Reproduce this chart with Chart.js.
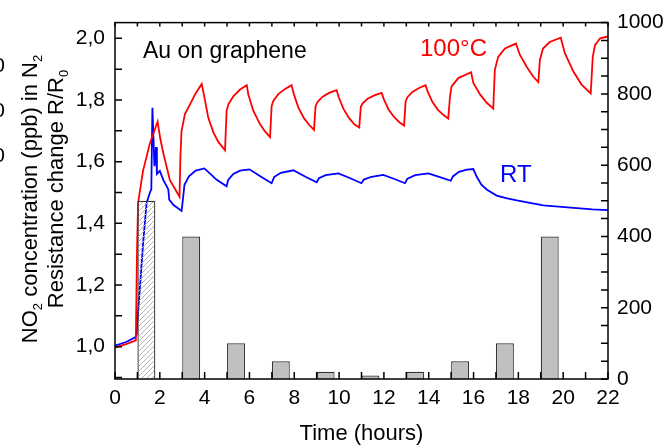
<!DOCTYPE html>
<html>
<head>
<meta charset="utf-8">
<script src="https://cdn.jsdelivr.net/npm/chart.js@4.4.1/dist/chart.umd.min.js"></script>
<style>
html, body { margin: 0; padding: 0; background: #fff; }
#wrap { width: 664px; height: 446px; }
</style>
</head>
<body>
<div id="wrap"><canvas id="c" width="664" height="446"></canvas></div>
<script>
// R/R0 at 100 C, time in hours
var tHot = [0, 0.5, 0.93, 0.98, 1.03, 1.25, 1.56, 1.9, 2.02, 2.16, 2.45, 2.88,
  2.92, 2.97, 3.12, 3.35, 3.57, 3.87, 4.02, 4.16, 4.39, 4.61, 4.91,
  4.98, 5.06, 5.28, 5.58, 5.88, 5.95, 6.17, 6.47, 6.7, 6.92,
  6.99, 7.07, 7.29, 7.59, 7.88, 7.98, 8.18, 8.43, 8.68, 8.88,
  8.95, 9.03, 9.25, 9.55, 9.89, 9.99, 10.19, 10.44, 10.69, 10.9,
  10.97, 11.05, 11.27, 11.57, 11.9, 12.0, 12.2, 12.45, 12.7, 12.9,
  12.97, 13.05, 13.27, 13.57, 13.86, 13.96, 14.16, 14.41, 14.66, 14.87,
  14.95, 15.02, 15.32, 15.89, 15.99, 16.29, 16.59, 16.88,
  16.95, 17.1, 17.4, 17.89, 18.07, 18.37, 18.66, 18.89,
  18.96, 19.1, 19.4, 19.89, 20.08, 20.45, 20.82, 21.23,
  21.32, 21.42, 21.65, 22];
var rHot = [0.997, 1.008, 1.02, 1.30, 1.466, 1.57, 1.66, 1.73, 1.675, 1.626, 1.54, 1.486,
  1.62, 1.70, 1.754, 1.786, 1.818, 1.852, 1.797, 1.743, 1.695, 1.664, 1.637,
  1.765, 1.786, 1.812, 1.834, 1.848, 1.818, 1.765, 1.722, 1.697, 1.68,
  1.781, 1.798, 1.819, 1.836, 1.848, 1.819, 1.776, 1.741, 1.718, 1.703,
  1.78, 1.793, 1.81, 1.823, 1.832, 1.808, 1.772, 1.742, 1.72, 1.711,
  1.778, 1.789, 1.804, 1.815, 1.823, 1.802, 1.77, 1.745, 1.727, 1.717,
  1.796, 1.809, 1.826, 1.839, 1.848, 1.826, 1.794, 1.768, 1.751, 1.74,
  1.812, 1.844, 1.871, 1.89, 1.855, 1.818, 1.791, 1.772,
  1.898, 1.94, 1.967, 1.983, 1.946, 1.908, 1.876, 1.858,
  1.93, 1.967, 1.988, 2.002, 1.951, 1.893, 1.85, 1.821,
  1.94, 1.978, 2.0, 2.006];

// R/R0 at room temperature
var tRT = [0, 0.5, 0.9, 0.97, 0.99, 1.12, 1.26, 1.41, 1.56, 1.62, 1.67, 1.71, 1.76, 1.83, 1.87,
  2.0, 2.16, 2.38, 2.42, 2.6, 2.97, 3.02, 3.1, 3.3, 3.6, 3.99, 4.54, 4.98,
  5.05, 5.28, 5.58, 6.0, 6.5, 6.99, 7.1, 7.4, 7.96, 8.5, 9.0,
  9.1, 9.4, 9.97, 10.5, 11.0, 11.1, 11.45, 11.97, 12.5, 12.94,
  13.05, 13.4, 13.98, 14.5, 14.98, 15.08, 15.35, 15.7, 15.99,
  16.15, 16.35, 16.6, 17.03, 17.5, 17.93, 19.11, 20.2, 21.3, 22];
var rRT = [1.003, 1.015, 1.03, 1.04, 1.073, 1.2, 1.34, 1.466, 1.5, 1.51, 1.775, 1.69, 1.585, 1.647, 1.56,
  1.57, 1.54, 1.51, 1.477, 1.46, 1.44, 1.47, 1.525, 1.552, 1.571, 1.578, 1.541, 1.52,
  1.541, 1.56, 1.571, 1.575, 1.552, 1.53, 1.55, 1.564, 1.572, 1.551, 1.533,
  1.546, 1.556, 1.562, 1.546, 1.53, 1.542, 1.551, 1.557, 1.543, 1.53,
  1.545, 1.556, 1.562, 1.55, 1.538, 1.552, 1.567, 1.574, 1.576,
  1.55, 1.525, 1.509, 1.49, 1.481, 1.474, 1.458, 1.452, 1.445, 1.443];

// NO2 pulses: middle of each 0.8 h exposure, ppb
var pulseT = [1.4, 3.4, 5.4, 7.4, 9.4, 11.4, 13.4, 15.4, 17.4, 19.4];
var pulsePpb = [500, 400, 100, 50, 20, 10, 20, 50, 100, 400];

var xTicks = [0,1,2,3,4,5,6,7,8,9,10,11,12,13,14,15,16,17,18,19,20,21,22];
var xLabels = [0,2,4,6,8,10,12,14,16,18,20,22];
var leftTicks = [0.9,1.0,1.1,1.2,1.3,1.4,1.5,1.6,1.7,1.8,1.9,2.0];
var leftLabels = [1.0,1.2,1.4,1.6,1.8,2.0];
var rightTicks = [0,50,100,150,200,250,300,350,400,450,500,550,600,650,700,750,800,850,900,950,1000];
var rightLabels = [0,200,400,600,800,1000];

Chart.defaults.font.family = "'Liberation Sans', Arial, sans-serif";
Chart.defaults.color = '#000';

function has(list, v) {
  return list.some(function(l) { return Math.abs(l - v) < 1e-6; });
}
function pts(ts, vs) {
  return ts.map(function(t, i) { return { x: t, y: vs[i] }; });
}
function useTicks(list) {
  return function(s) { s.ticks = list.map(function(v) { return { value: v }; }); };
}

function hatch() {
  var c = document.createElement('canvas');
  c.width = 5; c.height = 5;
  var g = c.getContext('2d');
  g.strokeStyle = '#b4b4b4';
  g.lineWidth = 1;
  g.beginPath();
  g.moveTo(0, 5); g.lineTo(5, 0);
  g.moveTo(-1, 1); g.lineTo(1, -1);
  g.moveTo(4, 6); g.lineTo(6, 4);
  g.stroke();
  return g.createPattern(c, 'repeat');
}

var barFill = pulseT.map(function(t, i) { return i === 0 ? hatch() : '#c0c0c0'; });

// subscripted text, drawn along the current baseline
function drawParts(ctx, parts, x, y) {
  parts.forEach(function(p) {
    ctx.font = p[1] ? '13px "Liberation Sans"' : '22px "Liberation Sans"';
    ctx.fillText(p[0], x, y + (p[1] ? 5 : 0));
    x += ctx.measureText(p[0]).width;
  });
}
function partsWidth(ctx, parts) {
  var w = 0;
  parts.forEach(function(p) {
    ctx.font = p[1] ? '13px "Liberation Sans"' : '22px "Liberation Sans"';
    w += ctx.measureText(p[0]).width;
  });
  return w;
}

var frame = {
  id: 'frame',
  afterDraw: function(chart) {
    var ctx = chart.ctx, a = chart.chartArea;
    var sx = chart.scales.x, sl = chart.scales.y, sr = chart.scales.y2;
    ctx.save();
    ctx.strokeStyle = '#000';
    ctx.lineWidth = 1.5;
    ctx.strokeRect(a.left, a.top, a.right - a.left, a.bottom - a.top);
    ctx.beginPath();
    xTicks.forEach(function(v) {
      var p = sx.getPixelForValue(v);
      ctx.moveTo(p, a.bottom); ctx.lineTo(p, a.bottom - 7);
      ctx.moveTo(p, a.top); ctx.lineTo(p, a.top + 4);
    });
    leftTicks.forEach(function(v) {
      var p = sl.getPixelForValue(v);
      ctx.moveTo(a.left, p); ctx.lineTo(a.left + 7, p);
    });
    rightTicks.forEach(function(v) {
      var p = sr.getPixelForValue(v);
      ctx.moveTo(a.right, p); ctx.lineTo(a.right - 7, p);
    });
    ctx.stroke();

    ctx.textBaseline = 'alphabetic';
    ctx.textAlign = 'left';
    ctx.fillStyle = '#000';
    ctx.font = '23px "Liberation Sans"';
    ctx.fillText('Au on graphene', 143, 58);
    ctx.fillStyle = '#ff0000';
    ctx.font = '24px "Liberation Sans"';
    ctx.fillText('100\u00b0C', 420, 56);
    ctx.fillStyle = '#0000ff';
    ctx.fillText('RT', 500, 182);

    ctx.fillStyle = '#000';
    ctx.font = '22px "Liberation Sans"';
    ctx.textAlign = 'center';
    ctx.fillText('Time (hours)', (a.left + a.right) / 2, 440);

    // stacked left titles
    ctx.textAlign = 'left';
    var t1 = [['NO', 0], ['2', 1], [' concentration (ppb) in N', 0], ['2', 1]];
    var t2 = [['Resistance change R/R', 0], ['0', 1]];
    ctx.save();
    ctx.translate(36.5, 199);
    ctx.rotate(-Math.PI / 2);
    drawParts(ctx, t1, -partsWidth(ctx, t1) / 2, 0);
    ctx.restore();
    ctx.save();
    ctx.translate(63, 189);
    ctx.rotate(-Math.PI / 2);
    drawParts(ctx, t2, -partsWidth(ctx, t2) / 2, 0);
    ctx.restore();

    // cropped labels of a neighbouring panel
    ctx.font = '21px "Liberation Sans"';
    ctx.textAlign = 'right';
    ctx.textBaseline = 'middle';
    [66, 111, 156].forEach(function(y) { ctx.fillText('0', 5, y); });
    ctx.restore();
  }
};

new Chart(document.getElementById('c'), {
  type: 'line',
  data: {
    datasets: [
      {
        type: 'bar', label: 'NO2', yAxisID: 'y2', order: 0,
        data: pts(pulseT, pulsePpb),
        backgroundColor: barFill, borderColor: '#333', borderWidth: 1.2,
        barPercentage: 0.8, categoryPercentage: 1.0
      },
      {
        label: '100\u00b0C', yAxisID: 'y', order: 1,
        data: pts(tHot, rHot),
        borderColor: '#ff0000', borderWidth: 1.8, pointRadius: 0, tension: 0, fill: false
      },
      {
        label: 'RT', yAxisID: 'y', order: 2,
        data: pts(tRT, rRT),
        borderColor: '#0000ff', borderWidth: 1.8, pointRadius: 0, tension: 0, fill: false
      }
    ]
  },
  options: {
    responsive: false, animation: false,
    layout: { padding: { top: 17, left: 0, right: 0, bottom: 0 } },
    plugins: { legend: { display: false }, tooltip: { enabled: false } },
    scales: {
      x: {
        type: 'linear', min: 0, max: 22, offset: false,
        afterBuildTicks: useTicks(xTicks),
        afterFit: function(s) { s.height = 67; },
        grid: { display: false, drawTicks: false },
        border: { display: false },
        ticks: {
          autoSkip: false, maxRotation: 0, padding: 7,
          font: { size: 21 },
          callback: function(v) { return has(xLabels, v) ? String(v) : ''; }
        }
      },
      y: {
        position: 'left', min: 0.895, max: 2.051,
        afterBuildTicks: useTicks(leftTicks),
        afterFit: function(s) { s.width = 115; },
        grid: { display: false, drawTicks: false },
        border: { display: false },
        ticks: {
          autoSkip: false, padding: 10,
          font: { size: 21 },
          callback: function(v) { return has(leftLabels, v) ? v.toFixed(1).replace('.', ',') : ''; }
        }
      },
      y2: {
        position: 'right', min: 0, max: 1000,
        afterBuildTicks: useTicks(rightTicks),
        afterFit: function(s) { s.width = 56; },
        grid: { display: false, drawTicks: false },
        border: { display: false },
        ticks: {
          autoSkip: false, padding: 9,
          font: { size: 21 },
          callback: function(v) { return has(rightLabels, v) ? String(v) : ''; }
        }
      }
    }
  },
  plugins: [frame]
});
</script>
</body>
</html>
